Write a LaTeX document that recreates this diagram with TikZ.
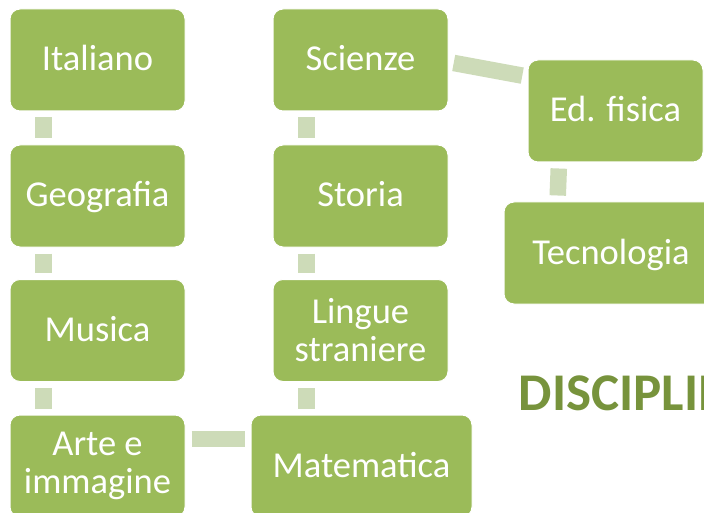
\documentclass[tikz,border=0pt]{standalone}
\usepackage{fontspec}
\setmainfont{Carlito}

\definecolor{boxgreen}{RGB}{155,187,89}
\definecolor{barg}{RGB}{205,219,184}
\definecolor{titleg}{RGB}{119,147,60}

\tikzset{
  subj/.style={fill=boxgreen,draw=white,line width=1pt,rounded corners=10pt,
    minimum width=175pt,minimum height=102pt,inner sep=0pt,text=white,align=center,
    font=\fontsize{36.5}{38}\selectfont,text height=29pt,text depth=7pt},
  twol/.style={text height=,text depth=},
  bar/.style={draw=barg,line width=16.5pt,shorten <=6pt,shorten >=6pt}
}

\begin{document}
\begin{tikzpicture}[x=1pt,y=-1pt]
\useasboundingbox (0,0) rectangle (704,513);

% first column
\node[subj] (ita) at (97.5,60) {Italiano};
\node[subj] (geo) at (97.5,196) {Geografia};
\node[subj] (mus) at (97.5,330.5) {Musica};
\node[subj,twol] (arte) at (97.5,466) {Arte e\\immagine};

% second column
\node[subj] (sci) at (360.5,60) {Scienze};
\node[subj] (sto) at (360.5,196) {Storia};
\node[subj,twol] (lin) at (360.5,330.5) {Lingue\\straniere};
\node[subj,minimum width=221pt] (mat) at (361.5,466) {Matematica};

% right
\node[subj] (edf) at (615.5,111) {Ed. fisica};
\node[subj,minimum width=214pt] (tec) at (611,253) {Tecnologia};

\draw[bar] ([xshift=34pt]ita.south west) -- ([xshift=34pt]geo.north west);
\draw[bar] ([xshift=34pt]geo.south west) -- ([xshift=34pt]mus.north west);
\draw[bar] ([xshift=34pt]mus.south west) -- ([xshift=34pt]arte.north west);
\draw[bar] ([yshift=27pt]arte.east) -- ([yshift=27pt]mat.west);

\draw[bar] ([xshift=34pt]sci.south west) -- ([xshift=34pt]sto.north west);
\draw[bar] ([xshift=34pt]sto.south west) -- ([xshift=34pt]lin.north west);
\draw[bar] ([xshift=34pt]lin.south west) -- ([xshift=56pt]mat.north west);

\draw[bar,shorten <=5.3pt,shorten >=5.3pt] ([yshift=-2pt]sci.east) -- ([yshift=34.4pt]edf.west);
\draw[bar] ([xshift=31.5pt]edf.south west) -- ([xshift=54pt]tec.north west);

\node[anchor=base west,inner sep=0pt,text=titleg,font=\fontsize{53}{60}\selectfont\bfseries] (tit) at (518.5,410) {DISCIPLINE};

\end{tikzpicture}
\end{document}
